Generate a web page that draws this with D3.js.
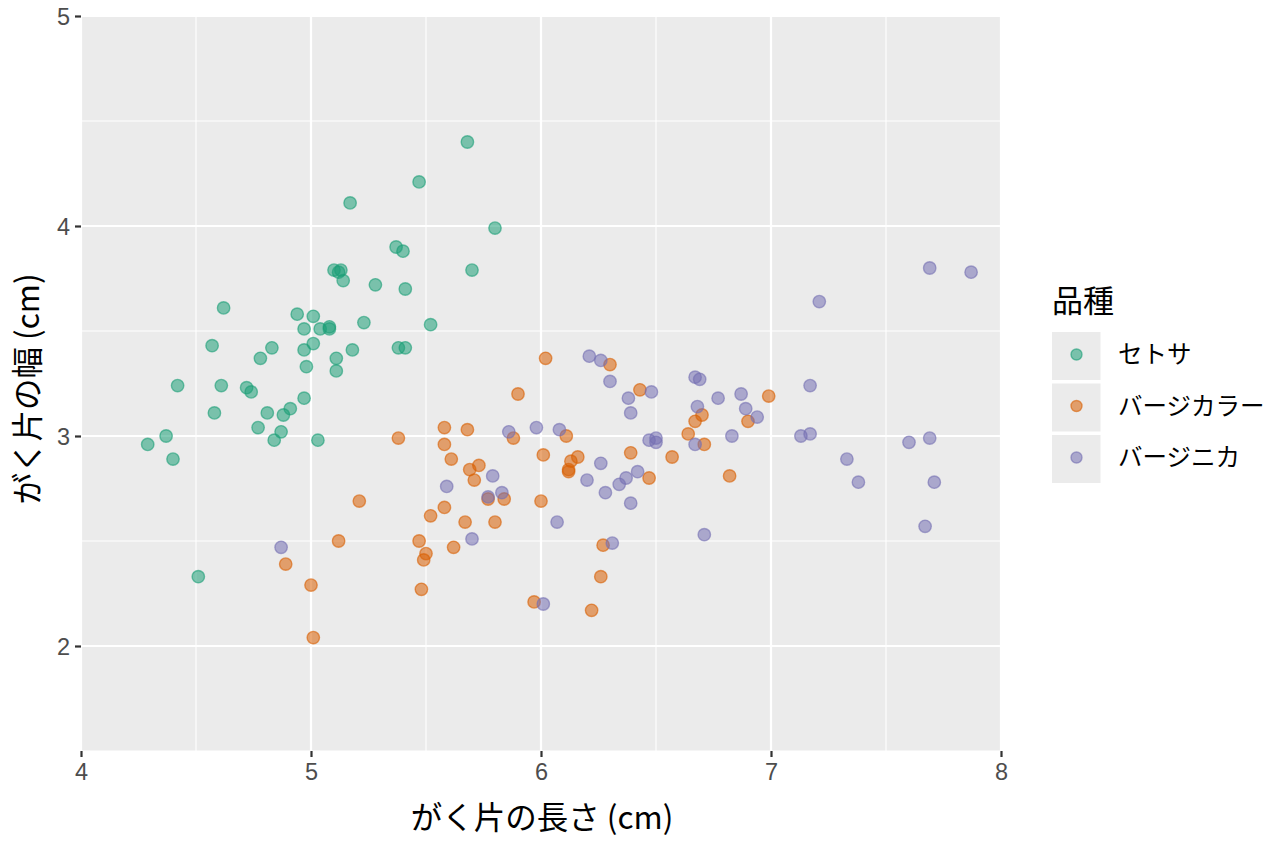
<!DOCTYPE html>
<html><head><meta charset="utf-8">
<script src="https://cdn.jsdelivr.net/npm/d3@7"></script>
<style>body{margin:0;background:#fff;} svg{display:block;}</style>
</head><body>
<script>
// ---- data ----
const species = ["セトサ", "バージカラー", "バージニカ"];
const speciesColors = ["#1b9e77", "#d95f02", "#7570b3"];
const xTicks = [4, 5, 6, 7, 8];
const yTicks = [2, 3, 4, 5];
const xTitle = "がく片の長さ (cm)";
const yTitle = "がく片の幅 (cm)";
const legendTitle = "品種";

const setosaLength = [5.68,5.47,5.17,5.80,5.37,5.40,5.10,5.13,5.12,5.14,5.70,5.28,5.41,4.62,4.94,5.01,5.23,5.52,4.97,5.04,5.08,5.08,4.57,4.83,5.01,4.97,5.18,5.38,5.41,4.78,4.98,5.11,5.11,4.42,4.61,4.72,4.74,4.97,4.58,4.81,4.91,4.88,4.77,4.87,4.37,4.29,4.84,5.03,4.40,4.51];
const setosaWidth  = [4.40,4.21,4.11,3.99,3.90,3.88,3.79,3.79,3.78,3.74,3.79,3.72,3.70,3.61,3.58,3.57,3.54,3.53,3.51,3.51,3.52,3.51,3.43,3.42,3.44,3.41,3.41,3.42,3.42,3.37,3.33,3.37,3.31,3.24,3.24,3.23,3.21,3.18,3.11,3.11,3.13,3.10,3.04,3.02,3.00,2.96,2.98,2.98,2.89,2.33];

const versicolorLength = [6.02,6.30,5.90,6.43,5.58,5.68,5.38,5.88,6.11,5.58,5.61,6.01,6.39,6.57,6.16,6.13,6.12,6.12,5.73,5.69,5.71,6.47,5.77,5.84,6.00,5.58,5.52,5.67,5.80,5.47,5.62,5.50,5.49,6.27,6.26,5.48,5.97,6.22,5.21,5.12,4.89,5.00,5.01,6.99,6.70,6.67,6.90,6.64,6.71,6.82];
const versicolorWidth  = [3.37,3.34,3.20,3.22,3.04,3.03,2.99,2.99,3.00,2.96,2.89,2.91,2.92,2.90,2.90,2.88,2.83,2.84,2.86,2.84,2.79,2.80,2.70,2.70,2.69,2.66,2.62,2.59,2.59,2.50,2.47,2.44,2.41,2.48,2.33,2.27,2.21,2.17,2.69,2.50,2.39,2.29,2.04,3.19,3.10,3.07,3.07,3.01,2.96,2.81];

const virginicaLength = [7.69,7.87,7.21,7.17,6.94,7.13,7.17,7.60,7.69,7.33,7.38,7.71,7.67,6.21,6.26,6.30,6.38,6.48,6.39,5.86,5.98,6.08,6.47,6.50,6.50,6.26,5.79,5.59,6.20,6.37,6.34,6.42,6.28,6.39,5.83,5.77,6.07,5.70,6.31,6.01,6.67,6.69,6.77,6.87,6.68,6.89,6.83,6.67,6.71,4.87];
const virginicaWidth  = [3.80,3.78,3.64,3.24,3.09,3.00,3.01,2.97,2.99,2.89,2.78,2.78,2.57,3.38,3.36,3.26,3.18,3.21,3.11,3.02,3.04,3.03,2.98,2.99,2.97,2.87,2.81,2.76,2.79,2.80,2.77,2.83,2.73,2.68,2.73,2.71,2.59,2.51,2.49,2.20,3.28,3.27,3.18,3.20,3.14,3.13,3.00,2.96,2.53,2.47];

const lengths = [setosaLength, versicolorLength, virginicaLength];
const widths = [setosaWidth, versicolorWidth, virginicaWidth];

// ---- layout ----
const W = 1264, H = 848;
const panel = {left: 81, right: 1001, top: 16, bottom: 751};
const numFont = "'Liberation Sans', Arial, 'Noto Sans CJK JP', sans-serif";
const jpFont = "'Noto Sans CJK JP', 'Liberation Sans', sans-serif";

const svg = d3.select("body").append("svg").attr("width", W).attr("height", H);

const x = d3.scaleLinear().domain([4, 8]).range([panel.left, panel.right]);
const y = d3.scaleLinear().domain([1.5, 5]).range([panel.bottom, panel.top]);
const color = d3.scaleOrdinal().domain(species).range(speciesColors);

svg.append("rect").attr("x", panel.left).attr("y", panel.top)
  .attr("width", panel.right - panel.left).attr("height", panel.bottom - panel.top)
  .attr("fill", "#ebebeb");

const grid = svg.append("g");
const xMinor = [4.5, 5.5, 6.5, 7.5];
const yMinor = [1.5, 2.5, 3.5, 4.5];
grid.selectAll(".xm").data(xMinor).join("line")
  .attr("x1", d => x(d)).attr("x2", d => x(d)).attr("y1", panel.top).attr("y2", panel.bottom)
  .attr("stroke", "#fff").attr("stroke-width", 1.1);
grid.selectAll(".ym").data(yMinor).join("line")
  .attr("y1", d => y(d)).attr("y2", d => y(d)).attr("x1", panel.left).attr("x2", panel.right)
  .attr("stroke", "#fff").attr("stroke-width", 1.1);
grid.selectAll(".xM").data(xTicks).join("line")
  .attr("x1", d => x(d)).attr("x2", d => x(d)).attr("y1", panel.top).attr("y2", panel.bottom)
  .attr("stroke", "#fff").attr("stroke-width", 2.2);
grid.selectAll(".yM").data(yTicks).join("line")
  .attr("y1", d => y(d)).attr("y2", d => y(d)).attr("x1", panel.left).attr("x2", panel.right)
  .attr("stroke", "#fff").attr("stroke-width", 2.2);

// axes
const xAxis = svg.append("g").attr("transform", `translate(0,${panel.bottom})`)
  .call(d3.axisBottom(x).tickValues(xTicks).tickFormat(d3.format("d")).tickSize(6).tickPadding(6));
const yAxis = svg.append("g").attr("transform", `translate(${panel.left},0)`)
  .call(d3.axisLeft(y).tickValues(yTicks).tickFormat(d3.format("d")).tickSize(6).tickPadding(5));
[xAxis, yAxis].forEach(a => {
  a.select(".domain").remove();
  a.selectAll(".tick line").attr("stroke", "#333").attr("stroke-width", 2.2);
  a.selectAll(".tick text").attr("fill", "#4d4d4d").style("font-size", "23.5px").style("font-family", numFont);
});
yAxis.selectAll(".tick text").attr("dy", "0.36em");

// points
const pts = svg.append("g");
species.forEach((s, i) => {
  const data = d3.zip(lengths[i], widths[i]);
  pts.selectAll(null).data(data).join("circle")
    .attr("cx", d => x(d[0])).attr("cy", d => y(d[1])).attr("r", 6.2)
    .attr("fill", color(s)).attr("fill-opacity", 0.55)
    .attr("stroke", color(s)).attr("stroke-opacity", 0.6).attr("stroke-width", 1.4);
});

// titles
svg.append("text").attr("x", 542).attr("y", 829)
  .attr("text-anchor", "middle").style("font-size", "31.5px").style("font-family", jpFont)
  .attr("fill", "#000").text(xTitle);
svg.append("text").attr("transform", `translate(39,389) rotate(-90)`)
  .attr("text-anchor", "middle").style("font-size", "31.5px").style("font-family", jpFont)
  .attr("fill", "#000").text(yTitle);

// legend
const lg = svg.append("g").attr("transform", "translate(1052,0)");
lg.append("text").attr("x", 0).attr("y", 312).style("font-size", "31px").style("font-family", jpFont)
  .attr("fill", "#000").text(legendTitle);
const keyTops = [332, 383.5, 435];
species.forEach((s, i) => {
  const g = lg.append("g").attr("transform", `translate(0,${keyTops[i]})`);
  g.append("rect").attr("width", 48.5).attr("height", 48).attr("fill", "#ebebeb");
  g.append("circle").attr("cx", 24.5).attr("cy", 22.5).attr("r", 5.5)
    .attr("fill", color(s)).attr("fill-opacity", 0.55)
    .attr("stroke", color(s)).attr("stroke-opacity", 0.6).attr("stroke-width", 1.4);
  g.append("text").attr("x", 66).attr("y", 22.5).attr("dy", "0.36em")
    .style("font-size", "24.5px").style("font-family", jpFont).attr("fill", "#000").text(s);
});
</script>
</body></html>
